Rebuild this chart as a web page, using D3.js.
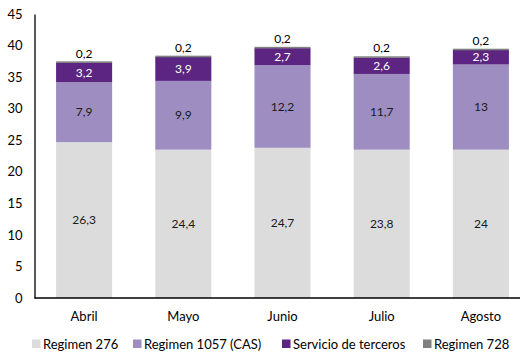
<!DOCTYPE html>
<html>
<head>
<meta charset="utf-8">
<script src="https://cdn.jsdelivr.net/npm/d3@7"></script>
<style>
  body { margin: 0; background: #fff; }
  svg { display: block; font-family: Lato, "Open Sans", sans-serif; }
</style>
</head>
<body>
<div id="chart"></div>
<script>
/* ======================= DATA ========================== */
const months = ["Abril", "Mayo", "Junio", "Julio", "Agosto"];
const seriesNames = ["Regimen 276", "Regimen 1057 (CAS)", "Servicio de terceros", "Regimen 728"];
const seriesColors = ["#DCDCDC", "#9E8DC0", "#5B2581", "#808080"];

// segment heights as drawn in the picture
const regimen276 = [24.7, 23.5, 23.8, 23.5, 23.5];
const regimenCas = [9.5, 10.9, 13.1, 12.0, 13.5];
const servicio   = [3.1, 3.8, 2.7, 2.6, 2.3];
const regimen728 = [0.2, 0.2, 0.2, 0.2, 0.2];

// data labels as printed
const label276 = ["26,3", "24,4", "24,7", "23,8", "24"];
const labelCas = ["7,9", "9,9", "12,2", "11,7", "13"];
const labelSer = ["3,2", "3,9", "2,7", "2,6", "2,3"];
const label728 = ["0,2", "0,2", "0,2", "0,2", "0,2"];

const yTicks = [0, 5, 10, 15, 20, 25, 30, 35, 40, 45];

/* ======================= SETUP ========================= */
const width = 520, height = 359;
const svg = d3.select("#chart").append("svg")
              .attr("width", width)
              .attr("height", height);

const x = d3.scaleBand()
            .domain(months)
            .range([34.5, 530.5])
            .paddingInner(0.435)
            .paddingOuter(0.2175);

const y = d3.scaleLinear()
            .domain([0, 45])
            .range([298, 14]);

const rows = months.map((m, i) => ({
    month: m,
    s0: regimen276[i], s1: regimenCas[i], s2: servicio[i], s3: regimen728[i]
}));
const stack = d3.stack().keys(["s0", "s1", "s2", "s3"])(rows);
const labels = [label276, labelCas, labelSer, label728];
const labelColors = ["#1a1a1a", "#1a1a1a", "#ffffff", "#000000"];

/* ======================= BARS ========================== */
stack.forEach((layer, k) => {
    let g = svg.append("g").attr("class", "series-" + k);
    g.selectAll("rect")
     .data(layer)
     .join("rect")
     .attr("x", d => x(d.data.month))
     .attr("y", d => y(d[1]))
     .attr("width", x.bandwidth())
     .attr("height", d => Math.max(y(d[0]) - y(d[1]), k === 3 ? 1.6 : 0))
     .attr("fill", seriesColors[k]);

    g.selectAll("text")
     .data(layer)
     .join("text")
     .attr("x", d => x(d.data.month) + x.bandwidth() / 2)
     .attr("y", d => k === 3 ? y(d[1]) - 8 : (y(d[0]) + y(d[1])) / 2)
     .attr("dy", "0.35em")
     .attr("text-anchor", "middle")
     .attr("font-size", 12)
     .attr("fill", labelColors[k])
     .text((d, i) => labels[k][i]);
});

/* ======================= AXES ========================== */
let axisLeft = svg.append("g")
                  .attr("transform", "translate(34.5,0)")
                  .call(d3.axisLeft(y).tickValues(yTicks).tickSize(0).tickPadding(12));
axisLeft.select(".domain").attr("stroke", "#000").attr("stroke-width", 1.3);
axisLeft.selectAll("text").attr("font-size", 13).attr("fill", "#000")
        .attr("font-family", "Lato, sans-serif");

svg.append("line")
   .attr("x1", 34.5).attr("x2", width)
   .attr("y1", y(0)).attr("y2", y(0))
   .attr("stroke", "#000").attr("stroke-width", 1.3);

svg.append("g").selectAll("text")
   .data(months)
   .join("text")
   .attr("x", d => x(d) + x.bandwidth() / 2)
   .attr("y", 316)
   .attr("dy", "0.35em")
   .attr("text-anchor", "middle")
   .attr("font-size", 13)
   .text(d => d);

/* ======================= LEGEND ======================== */
const legendX = [32, 133, 282, 423];
let legend = svg.append("g").selectAll("g")
                .data(seriesNames)
                .join("g")
                .attr("transform", (d, i) => `translate(${legendX[i]},344)`);
legend.append("rect")
      .attr("x", 0).attr("y", -4.5)
      .attr("width", 8.5).attr("height", 8.5)
      .attr("fill", (d, i) => seriesColors[i]);
legend.append("text")
      .attr("x", 11)
      .attr("dy", "0.35em")
      .attr("font-size", 13)
      .text(d => d);
</script>
</body>
</html>
